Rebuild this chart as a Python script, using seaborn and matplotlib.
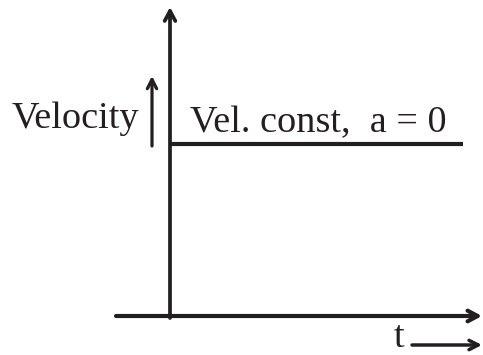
import matplotlib
matplotlib.use("Agg")
import matplotlib.pyplot as plt
import seaborn as sns
import pandas as pd

# Data
time = [0, 10]
velocity = [1, 1]
ylabel = "Velocity"
xlabel = "t"
annotation = "Vel. const,  a = 0"

sns.set_theme(style="white")
plt.rcParams['font.family'] = ['Liberation Serif', 'DejaVu Serif']

ink = "#231f20"
df = pd.DataFrame({"t": time, "v": velocity})

fig = plt.figure(figsize=(4.83, 3.55), dpi=100)
ax = fig.add_axes([0, 0, 1, 1])

# pixel mapping: t=0 -> x=170px, t=10 -> x=463px; v=0 -> y=316px, v=1 -> y=144px
sx = (463 - 170) / 10.0
sy = (316 - 144) / 1.0
def px(x, y):
    return ((x - 170) / sx, (316 - y) / sy)

x0, _ = px(0, 0)
x1, _ = px(483, 0)
_, ytop = px(0, 0)
_, ybot = px(0, 355)
ax.set_xlim(x0, x1)
ax.set_ylim(ybot, ytop)
ax.axis("off")

sns.lineplot(data=df, x="t", y="v", ax=ax, color=ink, lw=3.0, legend=False)
for l in ax.lines:
    l.set_solid_capstyle("butt")

head = "->,head_length=0.6,head_width=0.32"
small = "->,head_length=0.55,head_width=0.28"
# axes
ax.annotate("", xy=px(170, 7), xytext=px(170, 318),
            arrowprops=dict(arrowstyle=head, lw=2.7, color=ink, shrinkA=0, shrinkB=0))
ax.annotate("", xy=px(482, 316), xytext=px(116, 316),
            arrowprops=dict(arrowstyle=head, lw=3.0, color=ink, shrinkA=0, shrinkB=0))
# small arrows
ax.annotate("", xy=px(152, 76), xytext=px(152, 146),
            arrowprops=dict(arrowstyle=small, lw=2.3, color=ink, shrinkA=0, shrinkB=0))
ax.annotate("", xy=px(482, 345), xytext=px(412, 345),
            arrowprops=dict(arrowstyle=small, lw=2.5, color=ink, shrinkA=0, shrinkB=0))

ax.text(*px(12, 128), ylabel, fontsize=27.5, color=ink, ha="left", va="baseline")
ax.text(*px(190, 132), annotation, fontsize=27.5, color=ink, ha="left", va="baseline")
ax.text(*px(394, 355), xlabel, fontsize=27.5, color=ink, ha="left", va="bottom")

fig.savefig("out.png", dpi=100)
